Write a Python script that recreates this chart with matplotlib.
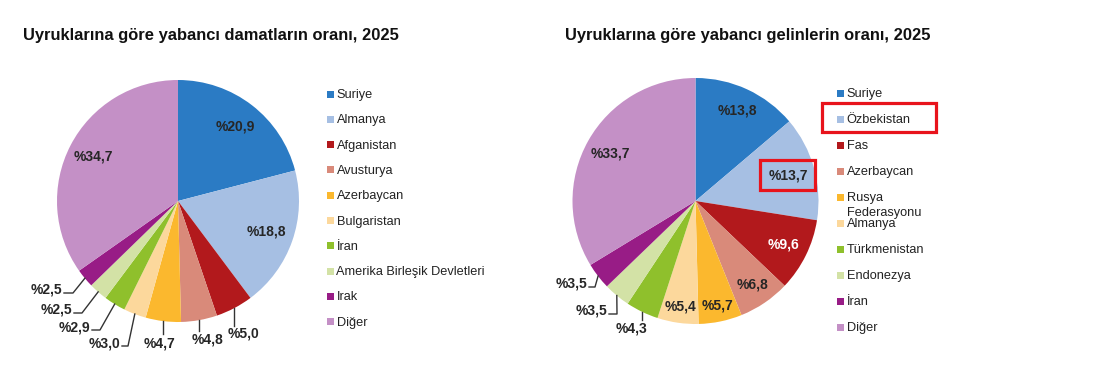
import matplotlib
matplotlib.use("Agg")
import matplotlib.pyplot as plt
from matplotlib.patches import Rectangle
import numpy as np

plt.rcParams['font.family'] = ['Liberation Sans', 'DejaVu Sans']

# ---------------- data ----------------
title_left = "Uyruklarına göre yabancı damatların oranı, 2025"
cats_left = ["Suriye", "Almanya", "Afganistan", "Avusturya", "Azerbaycan",
             "Bulgaristan", "İran", "Amerika Birleşik Devletleri", "Irak", "Diğer"]
vals_left = [20.9, 18.8, 5.0, 4.8, 4.7, 3.0, 2.9, 2.5, 2.5, 34.7]

title_right = "Uyruklarına göre yabancı gelinlerin oranı, 2025"
cats_right = ["Suriye", "Özbekistan", "Fas", "Azerbaycan", "Rusya\nFederasyonu",
              "Almanya", "Türkmenistan", "Endonezya", "İran", "Diğer"]
vals_right = [13.8, 13.7, 9.6, 6.8, 5.7, 5.4, 4.3, 3.5, 3.5, 33.7]

colors = ["#2b7bc4", "#a6bfe3", "#b2191c", "#d98a7a", "#fbb82e",
          "#fcd89c", "#8fc02c", "#d3e2a6", "#981c86", "#c490c6"]

W, H = 1110, 379
fig = plt.figure(figsize=(W / 100, H / 100), dpi=100)

# overlay axes in pixel coordinates (for titles, legends, boxes)
ov = fig.add_axes([0, 0, 1, 1], zorder=5)
ov.set_xlim(0, W)
ov.set_ylim(H, 0)
ov.axis('off')
ov.patch.set_alpha(0)


def fmt(v):
    return "%" + f"{v:.1f}".replace(".", ",")


def draw_pie(cx, cy, R, vals, inside, outside, white_idx=(), box_idx=None):
    ax = fig.add_axes([(cx - R) / W, (H - cy - R) / H, 2 * R / W, 2 * R / H])
    wedges, _ = ax.pie(vals, colors=colors, startangle=90, counterclock=False,
                       radius=1, wedgeprops=dict(linewidth=0))
    ax.set_xlim(-1, 1)
    ax.set_ylim(-1, 1)
    ax.set_aspect('equal')
    ax.axis('off')

    def p2d(px, py):
        return ((px - cx) / R, (cy - py) / R)

    mids = [np.deg2rad((w.theta1 + w.theta2) / 2) for w in wedges]
    # inside labels
    for i, r in inside.items():
        a = mids[i]
        kw = {}
        if box_idx == i:
            kw['bbox'] = dict(boxstyle='square,pad=0.55', fc='none', ec='#e8141c', lw=2.3)
        ax.text(r * np.cos(a), r * np.sin(a), fmt(vals[i]), ha='center', va='center',
                fontsize=10, fontweight='bold',
                color='white' if i in white_idx else '#262626', **kw)
    # outside labels
    for i, spec in outside.items():
        a = mids[i]
        ex, ey = np.cos(a), np.sin(a)
        kind = spec[0]
        if kind == 'down':
            _, tx, ty, ly = spec
            lyd = p2d(0, ly)[1]
            ax.plot([ex, ex], [ey, lyd], color='#333333', lw=1.0, clip_on=False)
            x, y = p2d(tx, ty)
            ax.text(x, y, fmt(vals[i]), ha='center', va='top', fontsize=10,
                    fontweight='bold', color='#262626', clip_on=False)
        else:
            _, tx, ty, elbx = spec
            x, y = p2d(tx, ty)
            bx, by = p2d(elbx, ty - 1)
            sx, _ = p2d(tx + 2, ty)
            ax.plot([ex, bx, sx], [ey, by, by], color='#333333', lw=1.0, clip_on=False)
            ax.text(x, y, fmt(vals[i]), ha='right', va='baseline', fontsize=10,
                    fontweight='bold', color='#262626', clip_on=False)
    return ax


# left pie
draw_pie(178, 201, 121, vals_left,
         inside={0: 0.78, 1: 0.77, 9: 0.79},
         outside={2: ('down', 243, 327, 326),
                  3: ('down', 207, 332, 331),
                  4: ('down', 160, 336, 334),
                  5: ('elbow', 120, 347, 128),
                  6: ('elbow', 90, 331, 100),
                  7: ('elbow', 72, 314, 82),
                  8: ('elbow', 62, 294, 73)})

# right pie
draw_pie(695.5, 201, 123, vals_right,
         inside={0: 0.81, 1: 0.78, 2: 0.80, 3: 0.82, 4: 0.87, 5: 0.87, 9: 0.79},
         outside={6: ('down', 632, 322, 320),
                  7: ('elbow', 607, 315, 617),
                  8: ('elbow', 587, 288, 595)},
         white_idx=(2,), box_idx=1)

# titles
ov.text(23, 40, title_left, ha='left', va='baseline', fontsize=11.9,
        fontweight='bold', color='#111111')
ov.text(565, 40, title_right, ha='left', va='baseline', fontsize=11.9,
        fontweight='bold', color='#111111')


def legend(x_mark, y0, dy, cats):
    for i, c in enumerate(cats):
        y = y0 + i * dy
        ov.add_patch(Rectangle((x_mark, y - 3.5), 7, 7, facecolor=colors[i],
                               edgecolor='none'))
        for j, line in enumerate(c.split("\n")):
            ov.text(x_mark + 10, y + 4 + j * 15, line, ha='left', va='baseline',
                    fontsize=9.2, color='#222222')


legend(326.5, 94, 25.3, cats_left)
legend(836.5, 93, 26.0, cats_right)

# highlight box around Özbekistan in legend
ov.add_patch(Rectangle((822, 103), 114, 29, facecolor='none', edgecolor='#e8141c',
                       lw=2.3))

fig.savefig("out.png", dpi=100)
